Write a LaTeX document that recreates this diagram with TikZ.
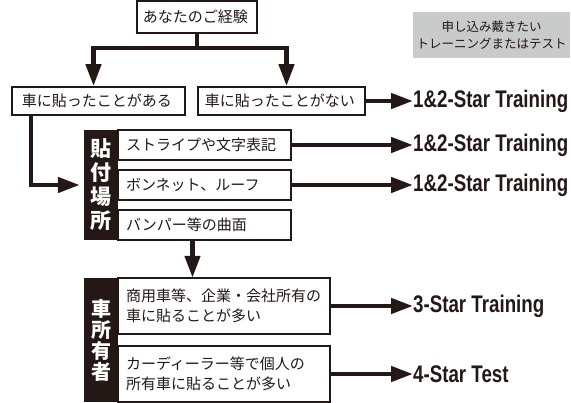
\documentclass[tikz,border=0pt]{standalone}
\usepackage{fontspec}
\setmainfont{Noto Sans CJK JP}
\newfontfamily\starfont[FakeStretch=0.78]{Liberation Sans}
\usepackage{tikz}
\usetikzlibrary{positioning}
\usetikzlibrary{arrows.meta}
\definecolor{ink}{HTML}{231815}
\definecolor{note}{HTML}{C9CACA}
\tikzset {
        boxnode/.style={align=center, inner sep=0pt, rectangle, draw=ink, line width=1.8pt, text=ink, font=\fontsize{15}{20}\selectfont},
        spotnode/.style={boxnode, align=left, inner xsep=8pt, inner ysep=0pt},
        barnode/.style={align=center, inner sep=0pt, rectangle, fill=ink, text=white, minimum width=34pt},
        starnode/.style={anchor=west, inner sep=0pt, text=ink, font=\starfont\bfseries\fontsize{24}{28}\selectfont},
        flow/.style={draw=ink, line width=4.5pt, -{Triangle[length=22pt,width=15pt]}},
        default/.style={}
}
\begin{document}
\begin{tikzpicture}[x=1pt, y=-1pt]
            \useasboundingbox (0,0) rectangle (571,403);
            \node[boxnode, minimum width=120pt, minimum height=32pt] (Experience) at (197,17) {
                あなたのご経験
            };
            \node[boxnode, minimum width=173pt, minimum height=28pt] (HaveApplied) at (98.5,101) {
                車に貼ったことがある
            };
            \node[boxnode, minimum width=167pt, minimum height=28pt] (NeverApplied) at (281.5,101) {
                車に貼ったことがない
            };
            \node[align=center, inner sep=0pt, fill=note, text=ink, minimum width=157pt, minimum height=46pt,
                  font=\fontsize{12.5}{17}\selectfont] (RequestNote) at (491.5,35) {
                申し込み戴きたい\\トレーニングまたはテスト
            };
            \node[barnode, minimum height=110pt, font=\bfseries\fontsize{21}{24}\selectfont] (PlaceBar) at (101,185) {
                貼\\付\\場\\所
            };
            \node[spotnode, text width=157pt, minimum height=30pt] (StripeSpot) at (204.5,145) {
                ストライプや文字表記
            };
            \node[spotnode, text width=157pt, minimum height=30pt] (BonnetSpot) at (204.5,185) {
                ボンネット、ルーフ
            };
            \node[spotnode, text width=157pt, minimum height=30pt] (BumperSpot) at (204.5,225) {
                バンパー等の曲面
            };
            \node[barnode, minimum height=124pt, font=\bfseries\fontsize{20}{21}\selectfont] (OwnerBar) at (101,340) {
                車\\所\\有\\者
            };
            \node[spotnode, text width=196pt, minimum height=56pt] (FleetOwner) at (224,306) {
                商用車等、企業・会社所有の\\車に貼ることが多い
            };
            \node[spotnode, text width=196pt, minimum height=56pt] (PrivateOwner) at (224,374) {
                カーディーラー等で個人の\\所有車に貼ることが多い
            };
            \node[starnode] (NeverStar) at (413,101) {1\&2-Star Training};
            \node[starnode] (StripeStar) at (413,145) {1\&2-Star Training};
            \node[starnode] (BonnetStar) at (413,185) {1\&2-Star Training};
            \node[starnode] (FleetStar) at (413,306) {3-Star Training};
            \node[starnode] (PrivateStar) at (413,374) {4-Star Test};
            \coordinate (Split) at (197,48);
            \draw[flow] (Experience.south) -- (Split) -| ([xshift=-5pt]HaveApplied.north);
            \draw[flow] (Split) -| ([xshift=5pt]NeverApplied.north);
            \draw[flow, shorten >=4pt] ([xshift=20pt]HaveApplied.south west) |- (BonnetSpot.west -| PlaceBar.west);
            \draw[flow] ([xshift=-12pt]BumperSpot.south) -- ([xshift=-12pt]BumperSpot.south |- OwnerBar.north);
            \draw[flow] (NeverApplied.east) -- (NeverStar.west);
            \draw[flow] (StripeSpot.east) -- (StripeStar.west);
            \draw[flow] (BonnetSpot.east) -- (BonnetStar.west);
            \draw[flow] (FleetOwner.east) -- (FleetStar.west);
            \draw[flow] (PrivateOwner.east) -- (PrivateStar.west);
        \end{tikzpicture}
\end{document}
